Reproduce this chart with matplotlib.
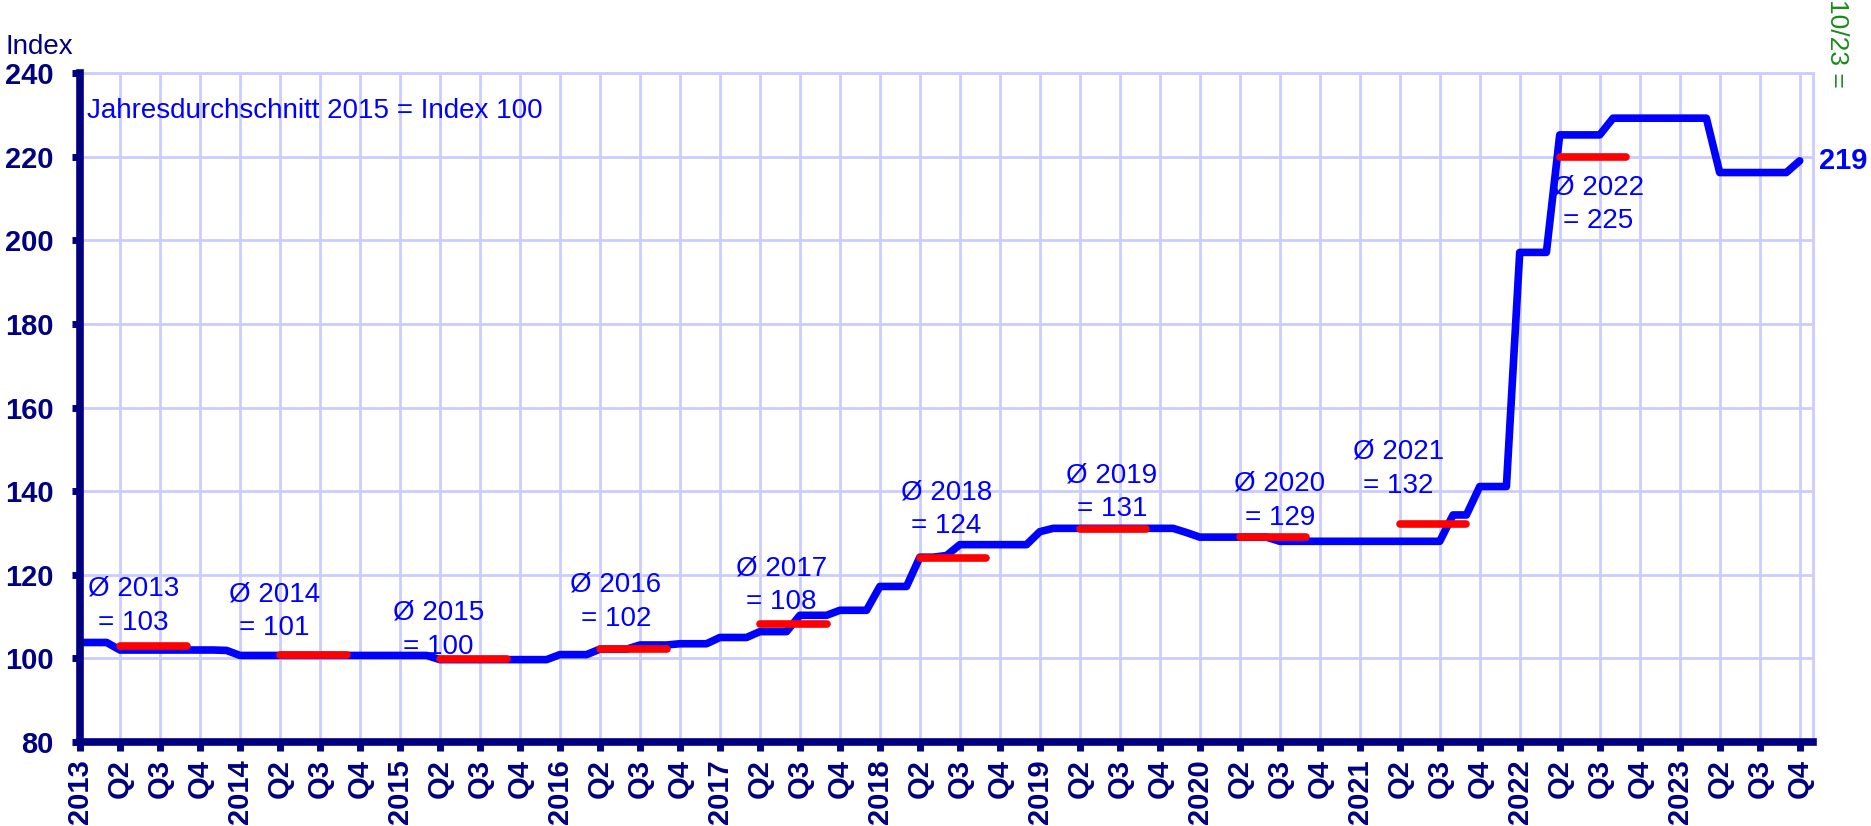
import matplotlib
matplotlib.use('Agg')
import matplotlib.pyplot as plt

plt.rcParams['font.family'] = ['Liberation Sans', 'DejaVu Sans']

# ---------------- data ----------------
years = [2013, 2014, 2015, 2016, 2017, 2018, 2019, 2020, 2021, 2022, 2023]
# monthly index values, Jan 2013 ... Oct 2023
idx_2013 = [103.8, 103.8, 103.8, 102.0, 102.0, 102.0, 102.0, 102.0, 102.0, 102.0, 102.0, 101.9]
idx_2014 = [100.7, 100.7, 100.7, 100.7, 100.7, 100.7, 100.7, 100.7, 100.7, 100.7, 100.7, 100.7]
idx_2015 = [100.7, 100.7, 100.7, 99.7, 99.7, 99.7, 99.7, 99.7, 99.7, 99.7, 99.7, 99.7]
idx_2016 = [100.9, 100.9, 100.9, 102.2, 102.2, 102.2, 103.2, 103.2, 103.2, 103.5, 103.5, 103.5]
idx_2017 = [105.0, 105.0, 105.0, 106.4, 106.4, 106.4, 110.3, 110.3, 110.3, 111.5, 111.5, 111.5]
idx_2018 = [117.2, 117.2, 117.2, 124.2, 124.2, 124.6, 127.2, 127.2, 127.2, 127.2, 127.2, 127.2]
idx_2019 = [130.3, 131.1, 131.1, 131.1, 131.1, 131.1, 131.1, 131.1, 131.1, 131.1, 131.1, 130.1]
idx_2020 = [129.0, 129.0, 129.0, 129.0, 129.0, 129.0, 128.0, 128.0, 128.0, 128.0, 128.0, 128.0]
idx_2021 = [128.0, 128.0, 128.0, 128.0, 128.0, 128.0, 128.0, 134.3, 134.3, 141.1, 141.1, 141.1]
idx_2022 = [197.1, 197.1, 197.1, 225.2, 225.2, 225.2, 225.2, 229.2, 229.2, 229.2, 229.2, 229.2]
idx_2023 = [229.2, 229.2, 229.2, 216.2, 216.2, 216.2, 216.2, 216.2, 216.2, 219.0]

avg_years = [2013, 2014, 2015, 2016, 2017, 2018, 2019, 2020, 2021, 2022]
avg_values = [102.9, 100.8, 99.8, 102.2, 108.2, 124.0, 130.9, 129.1, 132.2, 219.8]
avg_labels = ['103', '101', '100', '102', '108', '124', '131', '129', '132', '225']

quarter_labels = ['Q2', 'Q3', 'Q4']
last_label = '10/23 ='

# ---------------- layout ----------------
# label anchor positions (month index, index value) for the yearly-average notes
note_pos = [(4.0, 112.6), (14.6, 111.3), (26.9, 106.8), (40.2, 113.6), (52.6, 117.5),
            (65.0, 135.7), (77.4, 139.7), (90.0, 137.7), (98.9, 145.4), (113.9, 208.6)]

navy = '#000080'
blue = '#0000ff'
red = '#ff0000'
grid_c = '#ccccff'
green = '#1a8c1a'

values = (idx_2013 + idx_2014 + idx_2015 + idx_2016 + idx_2017 + idx_2018 +
          idx_2019 + idx_2020 + idx_2021 + idx_2022 + idx_2023)
months = list(range(len(values)))

fig = plt.figure(figsize=(18.71, 8.26), dpi=100)
ax = fig.add_axes([0.04276, 0.1017, 0.969 - 0.04276, 0.9116 - 0.1017])

ax.set_xlim(0, 130)
ax.set_ylim(80, 240)

# grid
ax.set_axisbelow(True)
ax.grid(True, color=grid_c, lw=2.0, zorder=0)

# ticks
xticks = list(range(0, 12 * len(years), 3))
xlabels = []
for y in years:
    xlabels += [str(y)] + quarter_labels
ax.set_xticks(xticks)
ax.set_xticklabels(xlabels, rotation=90, fontsize=21, fontweight='bold', color=navy)
yticks = list(range(80, 241, 20))
ax.set_yticks(yticks)
ax.set_yticklabels([str(v) for v in yticks], fontsize=21, fontweight='bold', color=navy)
ax.tick_params(axis='x', direction='out', length=6.5, width=5, color=navy, pad=6)
ax.tick_params(axis='y', direction='out', length=6, width=5, color=navy, pad=13)

for s in ['left', 'bottom']:
    ax.spines[s].set_color(navy)
    ax.spines[s].set_linewidth(5.5)
    ax.spines[s].set_zorder(5)
for s in ['top', 'right']:
    ax.spines[s].set_color(grid_c)
    ax.spines[s].set_linewidth(2.0)

# notes (below the lines)
for yr, lab, (nx, ny) in zip(avg_years, avg_labels, note_pos):
    ax.text(nx, ny, f'Ø {yr}\n= {lab}', ha='center', va='center', fontsize=20,
            color=blue, linespacing=1.4, zorder=1.5)

# main line
ax.plot(months, values, color=blue, lw=5.5, solid_joinstyle='round',
        solid_capstyle='round', zorder=3)

# yearly averages
for yr, av in zip(avg_years, avg_values):
    m0 = (yr - years[0]) * 12 + 3
    ax.plot([m0, m0 + 5], [av, av], color=red, lw=5.5, solid_capstyle='round', zorder=4)

ax.text(0.5, 230.9, 'Jahresdurchschnitt 2015 = Index 100', ha='left', va='center',
        fontsize=20, color=blue, zorder=2)

ax.text(130.45, values[-1], f'{values[-1]:.0f}', ha='left', va='center', fontsize=21,
        fontweight='bold', color=blue, clip_on=False)

fig.text(0.0032, 0.9437, 'Index', ha='left', va='center', fontsize=20, color=navy)
fig.text(1837 / 1871, 1 - 88 / 826, last_label, rotation=270, ha='center', va='bottom',
         fontsize=19, color=green)

fig.savefig('out.png', dpi=100)
